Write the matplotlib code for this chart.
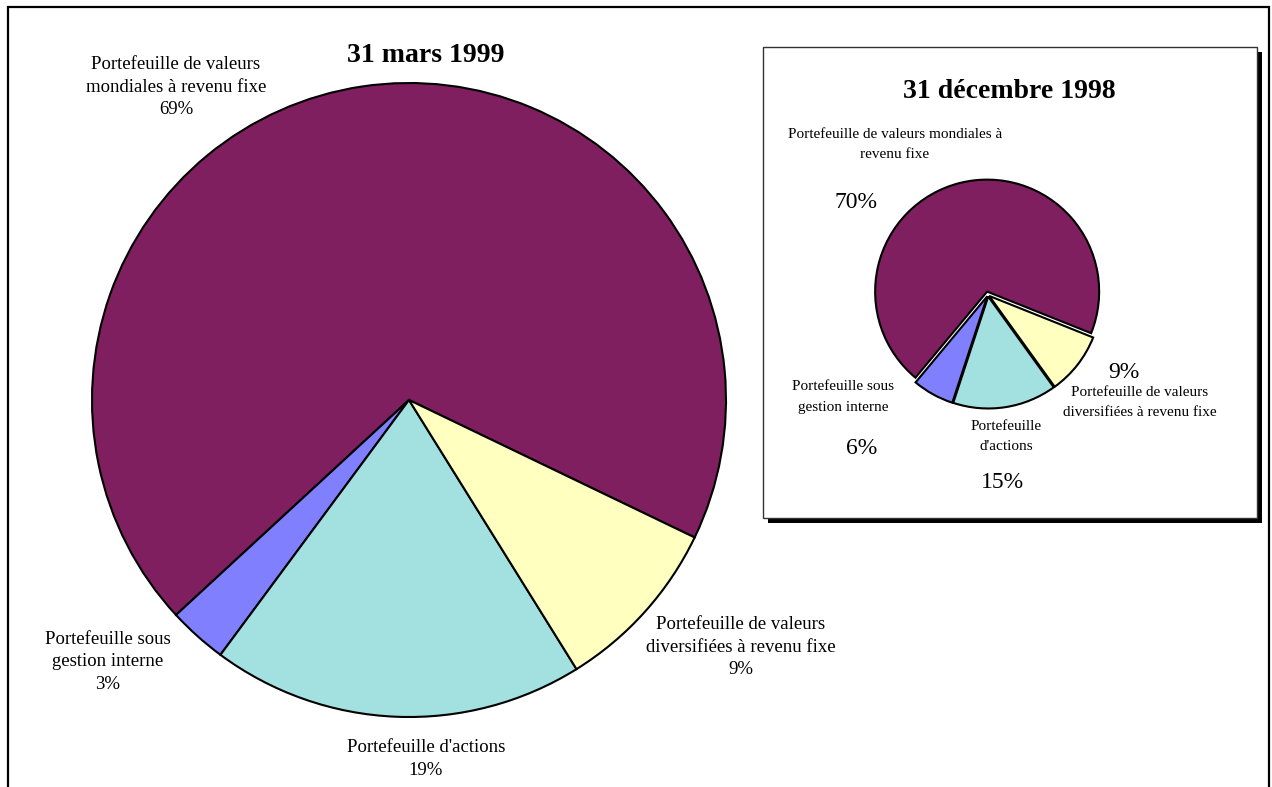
import matplotlib
matplotlib.use("Agg")
import matplotlib.pyplot as plt
from matplotlib.patches import Rectangle

plt.rcParams['font.family'] = ['Liberation Serif', 'DejaVu Serif']

# Portfolio breakdown, 31 mars 1999 (main pie)
categories = [
    "Portefeuille de valeurs\nmondiales à revenu fixe",
    "Portefeuille sous\ngestion interne",
    "Portefeuille d'actions",
    "Portefeuille de valeurs\ndiversifiées à revenu fixe",
]
mars_1999 = [69, 3, 19, 9]

# Portfolio breakdown, 31 décembre 1998 (inset pie)
inset_categories = [
    "Portefeuille de valeurs mondiales à\nrevenu fixe",
    "Portefeuille sous\ngestion interne",
    "Portefeuille\nd'actions",
    "Portefeuille de valeurs\ndiversifiées à revenu fixe",
]
dec_1998 = [70, 6, 15, 9]

colors = ['#7f1f5f', '#8080ff', '#a3e0e0', '#ffffc0']

W, H = 1272, 787
fig = plt.figure(figsize=(W / 100, H / 100), dpi=100)
ax = fig.add_axes([0, 0, 1, 1])


def py(y):
    # convert a top-down pixel row into the axes' bottom-up coordinate
    return H - y


# outer frame
ax.add_patch(Rectangle((8, py(800)), 1261, 793, fill=False, lw=1.6, ec='black'))

# main pie
ax.pie(mars_1999, colors=colors, startangle=-25.7, counterclock=True,
       center=(409, py(400)), radius=317,
       wedgeprops=dict(edgecolor='black', linewidth=1.5))

ax.text(426, py(55), "31 mars 1999", ha='center', va='center',
        fontsize=20, fontweight='bold')

main_label_pos = [(176, 87), (108, 662), (426, 759), (741, 647)]
for name, val, (x, y) in zip(categories, mars_1999, main_label_pos):
    ax.text(x, py(y), f"{name}\n{val}%", ha='center', va='center',
            fontsize=13.5, linespacing=1.4)

# inset box with drop shadow
bx, by, bw, bh = 763, 47, 494, 471
ax.add_patch(Rectangle((bx + 5, py(by + 5 + bh)), bw, bh, fc='black', ec='none'))
ax.add_patch(Rectangle((bx, py(by + bh)), bw, bh, fc='white', ec='#333333', lw=1))

# explode distances are in pixel units here
ax.pie(dec_1998, colors=colors, startangle=-21.8, counterclock=True,
       center=(988, py(295)), radius=112, explode=[3.5, 1.5, 1.5, 1.5],
       wedgeprops=dict(edgecolor='black', linewidth=1.5))

ax.text(1009, py(91), "31 décembre 1998", ha='center', va='center',
        fontsize=20, fontweight='bold')

inset_name_pos = [(895, 144), (843, 397), (1006, 437), (1140, 402)]
inset_pct_pos = [(856, 202), (862, 449), (1002, 482), (1124, 373)]
for name, val, (nx, ny), (vx, vy) in zip(inset_categories, dec_1998,
                                         inset_name_pos, inset_pct_pos):
    ax.text(nx, py(ny), name, ha='center', va='center',
            fontsize=11, linespacing=1.7)
    ax.text(vx, py(vy), f"{val}%", ha='center', va='center', fontsize=17)

ax.set_xlim(0, W)
ax.set_ylim(0, H)
ax.set_aspect('equal')
ax.axis('off')

fig.savefig("out.png", dpi=100, facecolor='white')
